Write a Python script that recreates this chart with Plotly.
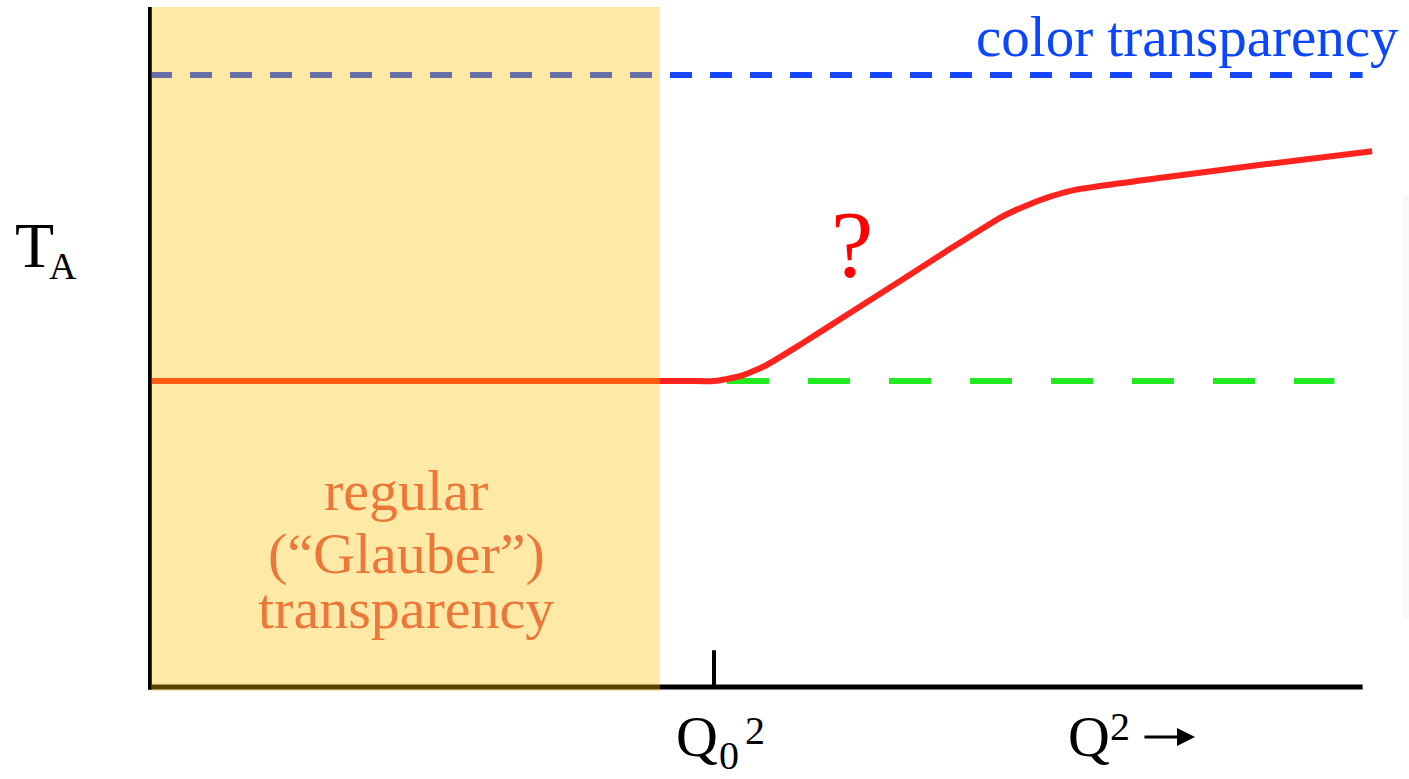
import plotly.graph_objects as go

# ---- data (arbitrary units: x = Q^2 / Q0^2, y = T_A) ----
red_x = [0.0, 0.5, 0.95, 1.0, 1.046, 1.090, 1.152, 1.241, 1.330, 1.418, 1.466, 1.507, 1.551, 1.596, 1.640, 1.803, 1.980, 2.167]
red_y = [0.45, 0.45, 0.45, 0.45, 0.457, 0.472, 0.503, 0.550, 0.597, 0.644, 0.669, 0.690, 0.707, 0.721, 0.731, 0.750, 0.769, 0.788]
glauber_x = [1.023, 2.10]
glauber_y = [0.45, 0.45]
ct_x = [0.0, 2.15]
ct_y = [0.90, 0.90]
shade_x = [0.0, 0.904]
q0_tick = 1.0
x_axis_end = 2.15
y_axis_top = 1.0

XR = [-0.26596, 2.23227]
YR = [-0.13529, 1.01029]

SERIF = "Liberation Serif, Times New Roman, serif"

fig = go.Figure()

fig.add_trace(go.Scatter(x=ct_x, y=ct_y, mode="lines",
                         line=dict(color="#1446FF", width=6, dash="22px,18px"),
                         hoverinfo="skip", showlegend=False))
fig.add_trace(go.Scatter(x=glauber_x, y=glauber_y, mode="lines",
                         line=dict(color="#22EA22", width=6, dash="42px,39px"),
                         hoverinfo="skip", showlegend=False))
fig.add_trace(go.Scatter(x=red_x, y=red_y, mode="lines",
                         line=dict(color="#FF231E", width=6, shape="spline", smoothing=0.5),
                         hoverinfo="skip", showlegend=False))

shapes = [
    dict(type="line", xref="x", yref="y", x0=0, x1=0, y0=-0.004, y1=y_axis_top,
         line=dict(color="black", width=4), layer="above"),
    dict(type="line", xref="x", yref="y", x0=0, x1=x_axis_end, y0=0, y1=0,
         line=dict(color="black", width=5), layer="above"),
    dict(type="line", xref="x", yref="y", x0=q0_tick, x1=q0_tick, y0=0, y1=0.054,
         line=dict(color="black", width=4), layer="above"),
    dict(type="rect", xref="x", yref="y", x0=shade_x[0] + 0.002, x1=shade_x[1], y0=-0.006, y1=y_axis_top,
         fillcolor="#FFC000", opacity=0.35, line=dict(width=0), layer="above"),
    dict(type="rect", xref="x", yref="y", x0=2.2216, x1=2.2323, y0=0.10, y1=0.7235,
         fillcolor="rgba(0,0,0,0.022)", line=dict(width=0), layer="below"),
]

ann = []
def txt(s, x, y, size, color="black", xanchor="center"):
    ann.append(dict(text=s, x=x, y=y, xref="x", yref="y", showarrow=False,
                    xanchor=xanchor, yanchor="middle",
                    font=dict(family=SERIF, size=size, color=color)))

txt("T", -0.2048, 0.65, 64)
txt("A", -0.1540, 0.6184, 38)
txt("color transparency", 1.8395, 0.957, 57, "#0A46FF")
txt("regular", 0.4539, 0.289, 58, "#EB7838")
txt("(\u201cGlauber\u201d)", 0.4539, 0.1963, 58, "#EB7838")
txt("transparency", 0.4539, 0.1154, 58, "#EB7838")
txt("?", 1.2447, 0.65, 95, "#FF0000")
txt("Q", 0.9690, -0.0735, 58)
txt("0", 1.0260, -0.1012, 40)
txt("2", 1.0727, -0.0644, 40)
txt("Q", 1.6650, -0.0735, 58)
txt("2", 1.7200, -0.058, 40)

ann.append(dict(x=1.8528, y=-0.0735, ax=1.7606, ay=-0.0735, xref="x", yref="y",
                axref="x", ayref="y", text="", showarrow=True,
                arrowhead=2, arrowsize=1.2, arrowwidth=3, arrowcolor="black", standoff=0))

fig.update_layout(
    width=1409, height=779,
    margin=dict(l=0, r=0, t=0, b=0),
    paper_bgcolor="white", plot_bgcolor="white",
    xaxis=dict(range=XR, visible=False, fixedrange=True),
    yaxis=dict(range=YR, visible=False, fixedrange=True),
    shapes=shapes, annotations=ann, showlegend=False,
)

fig.write_html("out.html", config={"displayModeBar": False},
               post_script="document.body.style.margin='0px';")
